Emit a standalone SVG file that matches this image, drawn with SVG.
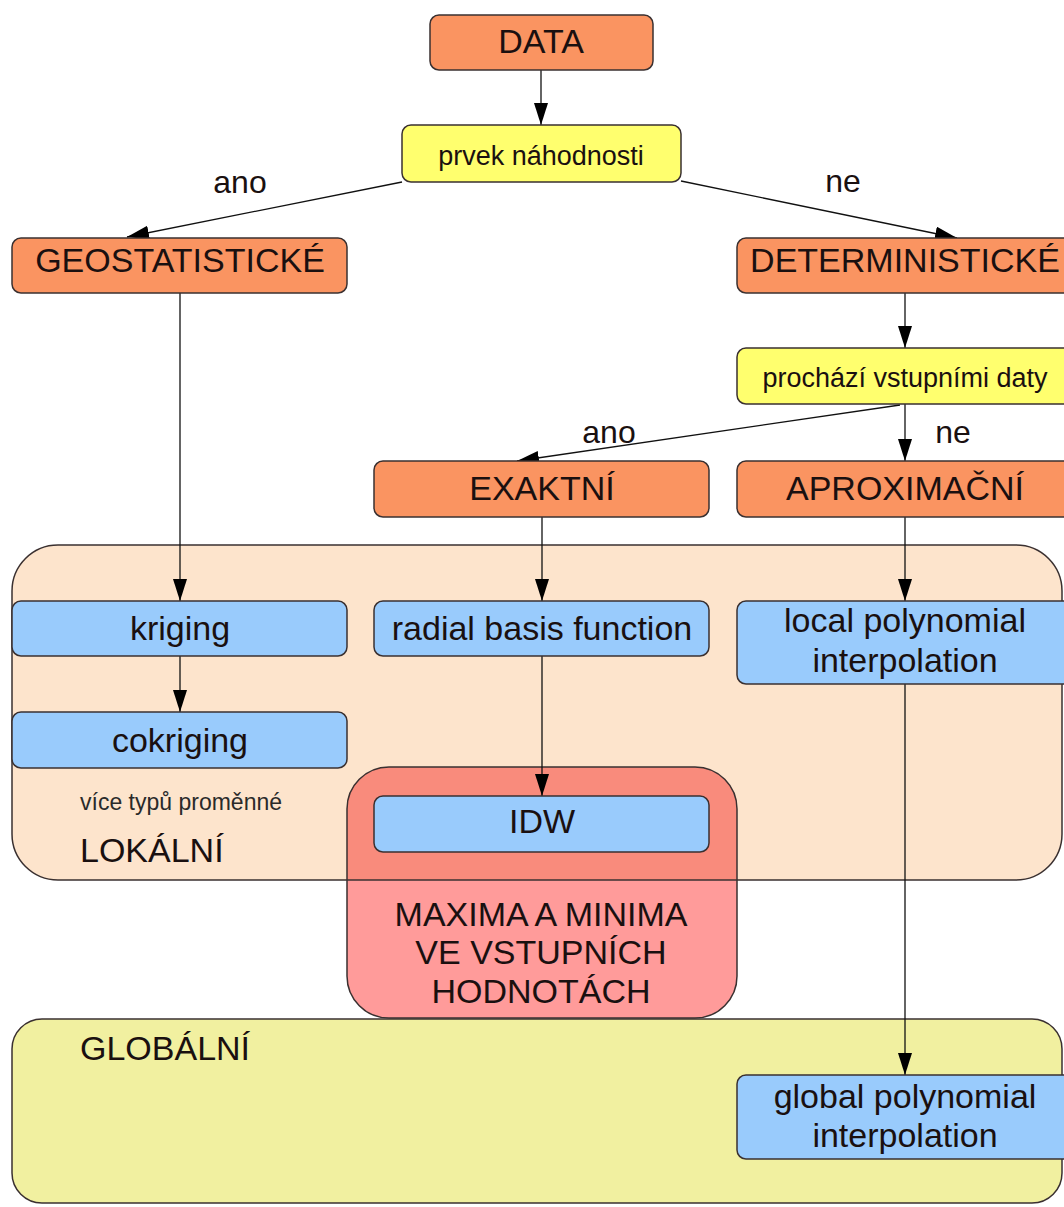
<svg xmlns="http://www.w3.org/2000/svg" width="1064" height="1207" viewBox="0 0 1064 1207">
<style>
  text { font-family: "Liberation Sans", Arial, sans-serif; fill: #1a1010; }
  .big { font-size: 34px; text-anchor: middle; }
  .mid { font-size: 27px; text-anchor: middle; }
  .lbl { font-size: 32px; text-anchor: middle; }
  .small { font-size: 23px; fill: #2a2a2a; }
  .box { stroke: #3a3030; stroke-width: 1.5; }
  .orange { fill: #fa9461; }
  .yellow { fill: #ffff6e; }
  .blue { fill: #99cbfc; }
  .conn { stroke: #111; stroke-width: 1.3; fill: none; marker-end: url(#arr); }
</style>
<defs>
  <marker id="arr" markerUnits="userSpaceOnUse" markerWidth="24" markerHeight="16" refX="22" refY="7" orient="auto">
    <path d="M0,0 L22,7 L0,14 Z" fill="#000"/>
  </marker>
  <clipPath id="redclip">
    <rect x="347" y="767" width="390" height="251" rx="42"/>
  </clipPath>
</defs>
<rect width="1064" height="1207" fill="#ffffff"/>

<g id="region-lokalni">
  <rect x="12" y="545" width="1050" height="335" rx="46" fill="#fde4cc" class="box"/>
  <text x="80" y="810" class="small">více typů proměnné</text>
  <text x="80" y="862" style="font-size:34px">LOKÁLNÍ</text>
</g>

<g id="region-globalni">
  <rect x="12" y="1019" width="1050" height="184" rx="30" fill="#f1f0a0" class="box"/>
  <text x="80" y="1060" style="font-size:34px">GLOBÁLNÍ</text>
</g>

<g id="region-maxima">
  <rect x="347" y="767" width="390" height="251" rx="42" fill="#ff9b9a"/>
  <rect x="340" y="760" width="410" height="120" fill="#f98b7c" clip-path="url(#redclip)"/>
  <rect x="347" y="767" width="390" height="251" rx="42" fill="none" class="box"/>
  <line x1="347" y1="880" x2="737" y2="880" stroke="#3a3030" stroke-width="1.5"/>
  <text x="541" y="926" class="big">MAXIMA A MINIMA</text>
  <text x="541" y="964" class="big">VE VSTUPNÍCH</text>
  <text x="541" y="1003" class="big">HODNOTÁCH</text>
</g>

<g id="connectors">
  <line x1="541" y1="70" x2="541" y2="125" class="conn"/>
  <line x1="402" y1="182" x2="127" y2="237" class="conn"/>
  <line x1="681" y1="181" x2="957" y2="238" class="conn"/>
  <line x1="180" y1="293" x2="180" y2="601" class="conn"/>
  <line x1="905" y1="293" x2="905" y2="348" class="conn"/>
  <line x1="900" y1="405" x2="517" y2="461" class="conn"/>
  <line x1="905" y1="404" x2="905" y2="461" class="conn"/>
  <line x1="542" y1="517" x2="542" y2="601" class="conn"/>
  <line x1="905" y1="517" x2="905" y2="601" class="conn"/>
  <line x1="180" y1="656" x2="180" y2="712" class="conn"/>
  <line x1="542" y1="656" x2="542" y2="796" class="conn"/>
  <line x1="905" y1="684" x2="905" y2="1075" class="conn"/>
  <text x="240" y="193" class="lbl">ano</text>
  <text x="843" y="192" class="lbl">ne</text>
  <text x="609" y="443" class="lbl">ano</text>
  <text x="953" y="443" class="lbl">ne</text>
</g>

<g id="node-data">
  <rect x="430" y="15" width="223" height="55" rx="9" class="box orange"/>
  <text x="541" y="53" class="big">DATA</text>
</g>
<g id="node-prvek">
  <rect x="402" y="125" width="279" height="57" rx="9" class="box yellow"/>
  <text x="541" y="165" class="mid">prvek náhodnosti</text>
</g>
<g id="node-geostatisticke">
  <rect x="12" y="238" width="335" height="55" rx="9" class="box orange"/>
  <text x="180" y="272" class="big">GEOSTATISTICKÉ</text>
</g>
<g id="node-deterministicke">
  <rect x="737" y="238" width="336" height="55" rx="9" class="box orange"/>
  <text x="905" y="272" class="big">DETERMINISTICKÉ</text>
</g>
<g id="node-prochazi">
  <rect x="737" y="348" width="336" height="56" rx="9" class="box yellow"/>
  <text x="905" y="387" class="mid">prochází vstupními daty</text>
</g>
<g id="node-exaktni">
  <rect x="374" y="461" width="335" height="56" rx="9" class="box orange"/>
  <text x="542" y="500" class="big">EXAKTNÍ</text>
</g>
<g id="node-aproximacni">
  <rect x="737" y="461" width="336" height="56" rx="9" class="box orange"/>
  <text x="905" y="500" class="big">APROXIMAČNÍ</text>
</g>
<g id="node-kriging">
  <rect x="12" y="601" width="335" height="55" rx="9" class="box blue"/>
  <text x="180" y="640" class="big">kriging</text>
</g>
<g id="node-cokriging">
  <rect x="12" y="712" width="335" height="56" rx="9" class="box blue"/>
  <text x="180" y="752" class="big">cokriging</text>
</g>
<g id="node-rbf">
  <rect x="374" y="601" width="335" height="55" rx="9" class="box blue"/>
  <text x="542" y="640" class="big">radial basis function</text>
</g>
<g id="node-local-poly">
  <rect x="737" y="601" width="336" height="83" rx="9" class="box blue"/>
  <text x="905" y="632" class="big">local polynomial</text>
  <text x="905" y="672" class="big">interpolation</text>
</g>
<g id="node-idw">
  <rect x="374" y="796" width="335" height="56" rx="9" class="box blue"/>
  <text x="542" y="833" class="big">IDW</text>
</g>
<g id="node-global-poly">
  <rect x="737" y="1075" width="336" height="84" rx="9" class="box blue"/>
  <text x="905" y="1108" class="big">global polynomial</text>
  <text x="905" y="1147" class="big">interpolation</text>
</g>
</svg>
